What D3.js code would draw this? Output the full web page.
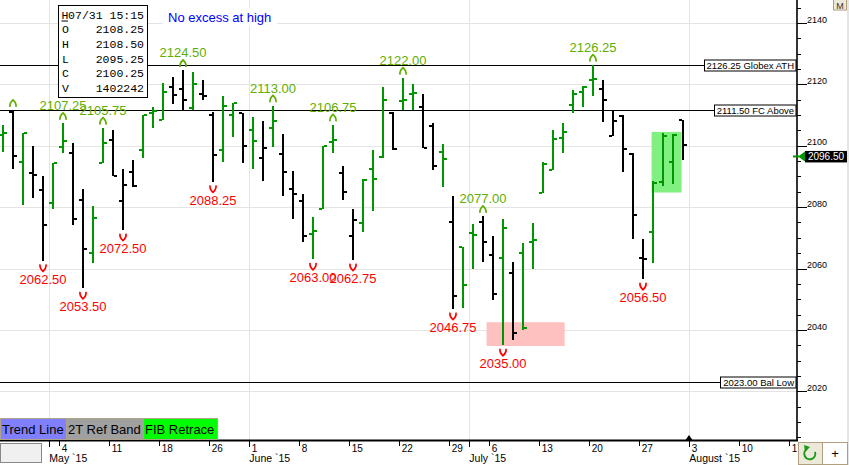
<!DOCTYPE html>
<html>
<head>
<meta charset="utf-8">
<script src="https://cdn.jsdelivr.net/npm/d3@7"></script>
<style>
  body { margin: 0; background: #fff; }
  svg { display: block; font-family: "Liberation Sans", Arial, sans-serif; }
</style>
</head>
<body>
<div id="chart"></div>
<script>
const w = 849;
const h = 465;
const plotRight = 797;
const axisY = 441;

// daily bars, 24 Apr - 31 Jul 2015
const dates = ['04/24','04/27','04/28','04/29','04/30','05/01','05/04','05/05','05/06','05/07',
  '05/08','05/11','05/12','05/13','05/14','05/15','05/18','05/19','05/20','05/21',
  '05/22','05/26','05/27','05/28','05/29','06/01','06/02','06/03','06/04','06/05',
  '06/08','06/09','06/10','06/11','06/12','06/15','06/16','06/17','06/18','06/19',
  '06/22','06/23','06/24','06/25','06/26','06/29','06/30','07/01','07/02','07/06',
  '07/07','07/08','07/09','07/10','07/13','07/14','07/15','07/16','07/17','07/20',
  '07/21','07/22','07/23','07/24','07/27','07/28','07/29','07/30','07/31'];
const opens = [2103.50,2111.00,2094.75,2091.00,2085.50,2081.25,2099.50,2097.50,2082.25,2065.00,
  2094.50,2102.00,2082.00,2091.50,2098.75,2110.75,2108.50,2119.00,2118.50,2112.25,
  2116.75,2110.00,2098.50,2110.00,2110.50,2105.00,2096.00,2105.75,2097.25,2085.75,
  2082.00,2071.25,2079.50,2101.25,2091.25,2070.50,2074.75,2092.25,2096.25,2110.75,
  2114.50,2116.75,2112.75,2106.50,2098.00,2075.00,2067.00,2071.50,2075.00,2064.50,
  2063.50,2058.50,2065.00,2068.75,2084.50,2092.00,2102.50,2113.25,2117.50,2121.50,
  2118.50,2103.25,2109.75,2097.25,2063.50,2071.75,2088.25,2094.75,2108.25];
const highs = [2106.75,2111.50,2104.25,2100.00,2090.00,2094.50,2107.25,2101.00,2085.75,2080.50,
  2105.75,2105.25,2092.50,2095.25,2110.00,2112.75,2120.50,2122.25,2124.50,2124.00,
  2121.50,2111.00,2116.25,2114.00,2110.75,2109.50,2108.00,2113.00,2103.75,2091.75,
  2084.25,2076.75,2100.00,2106.75,2093.50,2079.25,2089.00,2098.50,2119.00,2111.00,
  2122.00,2120.25,2117.00,2107.50,2100.50,2083.50,2067.00,2074.50,2077.00,2070.50,
  2076.00,2062.00,2068.25,2074.75,2094.75,2105.25,2107.25,2118.00,2119.50,2126.25,
  2121.50,2111.50,2110.00,2097.50,2069.50,2088.50,2104.00,2103.75,2108.50];
const lows = [2098.00,2092.50,2080.75,2083.00,2062.50,2079.50,2097.75,2074.25,2053.50,2061.75,
  2094.50,2090.00,2072.50,2086.50,2096.00,2105.75,2108.25,2113.50,2111.50,2111.75,
  2115.00,2088.25,2094.75,2102.75,2094.50,2092.50,2088.50,2099.50,2083.50,2076.00,
  2068.50,2063.00,2079.50,2097.75,2082.25,2062.75,2072.00,2078.75,2096.00,2098.50,
  2111.50,2111.50,2099.25,2092.00,2086.50,2046.75,2047.00,2060.00,2062.25,2049.75,
  2035.00,2036.75,2040.00,2059.75,2084.50,2092.00,2097.75,2110.75,2112.75,2116.25,
  2107.75,2103.25,2091.50,2069.75,2056.50,2061.75,2087.00,2087.50,2095.25];
const closes = [2104.00,2096.50,2104.00,2090.50,2074.25,2094.50,2101.50,2076.00,2066.50,2076.50,
  2100.75,2090.00,2087.25,2086.75,2110.00,2111.25,2117.50,2116.50,2114.75,2120.00,
  2116.25,2097.00,2113.00,2114.00,2100.00,2101.50,2099.25,2108.00,2091.50,2084.25,
  2070.50,2072.25,2100.00,2101.75,2085.00,2075.75,2088.75,2089.25,2114.75,2099.00,
  2115.00,2117.25,2099.25,2093.50,2095.75,2051.00,2054.50,2071.00,2068.75,2051.75,
  2073.25,2039.00,2040.75,2069.25,2094.00,2102.25,2104.50,2117.00,2119.00,2121.75,
  2114.75,2108.00,2099.00,2077.50,2063.25,2088.00,2103.25,2103.50,2100.25];
const lastVolume = 1402242;
const lastTime = '07/31 15:15';
const lastPrice = 2096.50;

// swing markers (bar indexes)
const swingHighs = [6, 10, 18, 27, 33, 40, 48, 59];
const unlabeledHighs = [1];
const swingLows = [4, 8, 12, 21, 31, 35, 45, 50, 64];

// reference levels
const levelPrices = [2126.25, 2111.50, 2023.00];
const levelNames = ['Globex ATH', 'FC Above', 'Bal Low'];

// shaded zones (bar index from/to, price lo/hi)
const zoneFrom = [48.4, 64.9];
const zoneTo = [56.2, 67.9];
const zoneLo = [2034.75, 2084.75];
const zoneHi = [2042.50, 2104.50];
const zoneColors = ['#ffc0c0', '#80f080'];

// x axis: trading-day index of each tick
const weekIdx = [6, 11, 16, 21, 25, 30, 35, 40, 45, 49, 54, 59, 64, 69, 74, 79];
const weekLabels = ['4','11','18','26','1','8','15','22','29','6','13','20','27','3','10','17'];
const monthIdx = [5, 25, 47, 69];
const monthLabels = ['May `15', 'June `15', 'July `15', 'August `15'];

const legendNames = ['Trend Line', '2T Ref Band', 'FIB Retrace'];
const legendColors = ['#8080ff', '#a0a0a0', '#00ff00'];

const upColor = '#009600';
const hiColor = '#5fae00';
const loColor = '#ff0000';

const svg = d3.select('#chart').append('svg')
  .attr('width', w).attr('height', h)
  .attr('viewBox', '0 0 ' + w + ' ' + h);

const x = d3.scaleLinear().domain([0, 80]).range([-0.7, 799.3]);
const cx = i => Math.round(x(i) + 3.3);
const y = d3.scaleLinear().domain([2020, 2140]).range([391.3, 22.9]);

// grid
svg.append('g').selectAll('line')
  .data(d3.range(2020, 2141, 20))
  .join('line')
  .attr('x1', 0).attr('x2', plotRight)
  .attr('y1', d => Math.round(y(d)) + 0.5).attr('y2', d => Math.round(y(d)) + 0.5)
  .attr('stroke', '#e4e4e4');
svg.append('g').selectAll('line')
  .data(monthIdx)
  .join('line')
  .attr('x1', d => Math.round(x(d)) + 0.5).attr('x2', d => Math.round(x(d)) + 0.5)
  .attr('y1', 0).attr('y2', axisY)
  .attr('stroke', '#e4e4e4');

// zones
svg.append('g').selectAll('rect')
  .data(zoneFrom)
  .join('rect')
  .attr('x', (d, i) => x(d) + 3.3)
  .attr('width', (d, i) => x(zoneTo[i]) - x(d))
  .attr('y', (d, i) => y(zoneHi[i]))
  .attr('height', (d, i) => y(zoneLo[i]) - y(zoneHi[i]))
  .attr('fill', (d, i) => zoneColors[i]);

// level lines with boxed labels
const lv = svg.append('g').style('font-size', '9.5px');
levelPrices.forEach((p, i) => {
  const yy = Math.round(y(p)) + 0.5;
  const t = lv.append('text')
    .attr('y', yy + 3.5)
    .attr('text-anchor', 'end')
    .attr('x', plotRight - 3)
    .text(p.toFixed(2) + ' ' + levelNames[i]);
  const tw = t.node().getComputedTextLength();
  const bx = Math.round(plotRight - 6 - tw) + 0.5;
  lv.insert('line', 'text').attr('x1', 0).attr('x2', bx).attr('y1', yy).attr('y2', yy).attr('stroke', '#000');
  lv.insert('rect', 'text').attr('x', bx).attr('y', yy - 5.5).attr('width', plotRight - 1 - bx).attr('height', 11)
    .attr('fill', '#fff').attr('stroke', '#000');
});

// OHLC bars
const bars = dates.map((d, i) => ({i, o: opens[i], hi: highs[i], lo: lows[i], c: closes[i]}));
const isUp = d => d.i === 0 ? d.c >= d.o : d.c > closes[d.i - 1];
const bg = svg.append('g').attr('shape-rendering', 'crispEdges');
const bar = bg.selectAll('g').data(bars).join('g')
  .attr('fill', d => isUp(d) ? upColor : '#000');
bar.append('rect')
  .attr('x', d => cx(d.i) - 1).attr('width', 2)
  .attr('y', d => Math.round(y(d.hi))).attr('height', d => Math.max(2, Math.round(y(d.lo)) - Math.round(y(d.hi))));
bar.append('rect')
  .attr('x', d => cx(d.i) - 4).attr('width', 3)
  .attr('y', d => Math.round(y(d.o)) - 1).attr('height', 2);
bar.append('rect')
  .attr('x', d => cx(d.i) + 1).attr('width', 3)
  .attr('y', d => Math.round(y(d.c)) - 1).attr('height', 2);

// swing markers
const mk = svg.append('g').style('font-size', '13px').attr('text-anchor', 'middle');
swingHighs.concat(unlabeledHighs).forEach(i => {
  const yy = y(highs[i]);
  mk.append('path')
    .attr('transform', 'translate(' + cx(i) + ',' + (yy - 7) + ')')
    .attr('d', 'M-3,3.5Q-3.5,-0.5 0,-3.5Q3.5,-0.5 3,3.5')
    .attr('fill', 'none').attr('stroke', hiColor).attr('stroke-width', 1.7);
  if (swingHighs.includes(i)) {
    mk.append('text').attr('x', cx(i)).attr('y', yy - 13).attr('fill', hiColor).text(highs[i].toFixed(2));
  }
});
swingLows.forEach(i => {
  const yy = y(lows[i]);
  mk.append('path')
    .attr('transform', 'translate(' + cx(i) + ',' + (yy + 7) + ')')
    .attr('d', 'M-3,-3.5Q-3.5,0.5 0,3.5Q3.5,0.5 3,-3.5')
    .attr('fill', 'none').attr('stroke', loColor).attr('stroke-width', 1.7);
  mk.append('text').attr('x', cx(i)).attr('y', yy + 23).attr('fill', loColor).text(lows[i].toFixed(2));
});

// right price axis
const ya = svg.append('g').attr('transform', 'translate(' + plotRight + ',0)');
ya.append('g')
  .call(d3.axisRight(y).tickValues(d3.range(2005, 2150, 5)).tickSize(4).tickFormat(''))
  .call(g => g.select('.domain').remove());
ya.append('g')
  .call(d3.axisRight(y).tickValues(d3.range(2020, 2141, 20)).tickSize(10).tickFormat(d3.format('d')))
  .call(g => g.select('.domain').remove())
  .call(g => g.selectAll('text').attr('x', 10).attr('dy', '-0.1em').style('font-size', '9px').attr('fill', '#000')
    .style('font-family', '"Liberation Sans", Arial, sans-serif'));
ya.selectAll('line').attr('stroke', '#000').attr('shape-rendering', 'crispEdges');
svg.append('line').attr('x1', plotRight).attr('x2', plotRight).attr('y1', 0).attr('y2', axisY)
  .attr('stroke', '#000').attr('stroke-width', 1.6);

// last price flag
const ly = y(lastPrice);
svg.append('line').attr('x1', 793).attr('x2', 799).attr('y1', ly).attr('y2', ly).attr('stroke', upColor).attr('stroke-width', 2);
svg.append('path').attr('d', 'M798,' + ly + 'L805,' + (ly - 5) + 'L805,' + (ly + 5) + 'Z').attr('fill', upColor);
svg.append('rect').attr('x', 805).attr('y', ly - 5.5).attr('width', 42).attr('height', 11.5).attr('fill', '#000');
svg.append('text').attr('x', 826).attr('y', ly + 3.6).attr('text-anchor', 'middle')
  .attr('fill', '#fff').style('font-size', '10px').text(lastPrice.toFixed(2));

// bottom time axis
const xa = svg.append('g').attr('transform', 'translate(0,' + axisY + ')')
  .style('font-family', '"Liberation Sans", Arial, sans-serif');
xa.append('g')
  .call(d3.axisBottom(x).tickValues(weekIdx).tickSize(5).tickFormat((d, i) => weekLabels[i]))
  .call(g => g.select('.domain').remove())
  .call(g => g.selectAll('text').attr('text-anchor', 'start').attr('x', 2).attr('y', 3.5)
    .style('font-size', '10px').style('font-family', '"Liberation Sans", Arial, sans-serif').attr('fill', '#000'));
xa.append('g')
  .call(d3.axisBottom(x).tickValues(monthIdx).tickSize(6).tickFormat((d, i) => monthLabels[i]))
  .call(g => g.select('.domain').remove())
  .call(g => g.selectAll('text').attr('text-anchor', 'start').attr('x', -0.5).attr('y', 14)
    .style('font-size', '10.5px').style('font-family', '"Liberation Sans", Arial, sans-serif').attr('fill', '#000'));
xa.selectAll('line').attr('stroke', '#000').attr('shape-rendering', 'crispEdges');
svg.append('line').attr('x1', 0).attr('x2', plotRight + 1).attr('y1', axisY - 0.5).attr('y2', axisY - 0.5)
  .attr('stroke', '#000').attr('stroke-width', 2);
const nx = Math.round(x(dates.length));
svg.append('path').attr('d', 'M' + nx + ',' + (axisY - 6) + 'L' + (nx + 3.5) + ',' + (axisY - 1) + 'L' + (nx - 3.5) + ',' + (axisY - 1) + 'Z')
  .attr('fill', '#000');

// note
svg.append('rect').attr('x', 163).attr('y', 8).attr('width', 114).attr('height', 18).attr('fill', '#fff');
svg.append('text').attr('x', 168).attr('y', 22).attr('fill', '#0000ff').style('font-size', '13px').text('No excess at high');

// data window
const last = dates.length - 1;
const info = svg.append('g').style('font-family', '"Liberation Mono", "DejaVu Sans Mono", monospace').style('font-size', '11.5px');
info.append('rect').attr('x', 58.5).attr('y', 5.5).attr('width', 89).attr('height', 92).attr('fill', '#fff').attr('stroke', '#000');
info.append('text').attr('x', 61.5).attr('y', 18.5).text('H');
info.append('line').attr('x1', 61.5).attr('x2', 68).attr('y1', 21).attr('y2', 21).attr('stroke', '#000');
info.append('text').attr('x', 144).attr('y', 18.5).attr('text-anchor', 'end').text(lastTime);
const infoLabels = ['O', 'H', 'L', 'C', 'V'];
const infoValues = [opens[last].toFixed(2), highs[last].toFixed(2), lows[last].toFixed(2), closes[last].toFixed(2), String(lastVolume)];
infoLabels.forEach((l, i) => {
  const by = 33.2 + i * 14.75;
  info.append('text').attr('x', 62).attr('y', by).text(l);
  info.append('text').attr('x', 144).attr('y', by).attr('text-anchor', 'end').text(infoValues[i]);
});

// legend buttons
const lg = svg.append('g').style('font-size', '13px');
let lx = 0;
legendNames.forEach((n, i) => {
  const t = lg.append('text').attr('x', lx + 2).attr('y', 434).text(n);
  const tw = Math.ceil(t.node().getComputedTextLength()) + 4;
  lg.insert('rect', 'text').attr('x', lx + 0.5).attr('y', 418.5).attr('width', tw).attr('height', 21)
    .attr('fill', legendColors[i]).attr('stroke', '#b0a488');
  lx += tw;
});

// window chrome
svg.append('rect').attr('x', 0.5).attr('y', 443.5).attr('width', 41).attr('height', 19)
  .attr('fill', '#f0f0f0').attr('stroke', '#888');
svg.append('rect').attr('x', 847).attr('y', 0).attr('width', 2).attr('height', h).attr('fill', '#e4e4e4');
svg.append('rect').attr('x', 833.5).attr('y', -1).attr('width', 13).attr('height', 11)
  .attr('fill', '#ece9d8').attr('stroke', '#b0a080');
svg.append('text').attr('x', 840).attr('y', 8.5).attr('text-anchor', 'middle').style('font-size', '9px').attr('fill', '#333').text('M');
svg.append('rect').attr('x', 798.5).attr('y', 442.5).attr('width', 24).attr('height', 22)
  .attr('fill', '#ece9d8').attr('stroke', '#b0a080');
svg.append('path').attr('d', 'M815,452 A5.5,5.5 0 1 1 807,449').attr('fill', 'none').attr('stroke', '#1a9a1a').attr('stroke-width', 2);
svg.append('path').attr('d', 'M804,445 L810,447 L805,452 Z').attr('fill', '#1a9a1a');
svg.append('rect').attr('x', 822.5).attr('y', 442.5).attr('width', 25).attr('height', 22)
  .attr('fill', '#fff').attr('stroke', '#b0a080');
svg.append('text').attr('x', 835).attr('y', 458).attr('text-anchor', 'middle').style('font-size', '13px').text('+');
</script>
</body>
</html>
